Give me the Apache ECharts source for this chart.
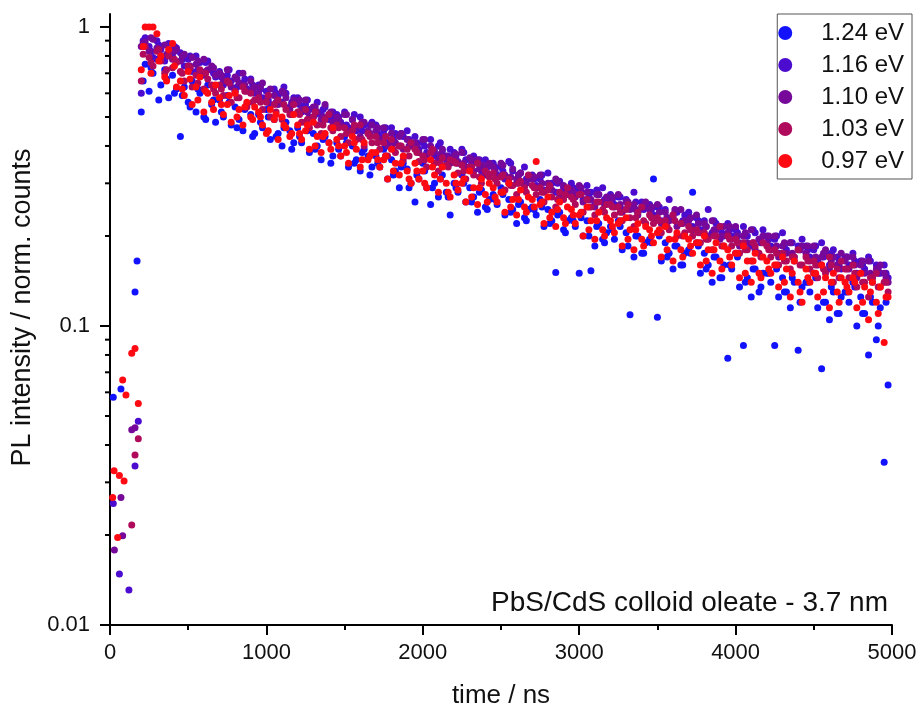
<!DOCTYPE html>
<html>
<head>
<meta charset="utf-8">
<script src="https://cdn.jsdelivr.net/npm/echarts@6/dist/echarts.min.js"></script>
<style>
  html, body { margin: 0; padding: 0; background: #fff; }
  #chart { width: 919px; height: 709px; }
</style>
</head>
<body>
<div id="chart"></div>
<script>
const FONT = "'Liberation Sans', Arial, sans-serif";

const seriesNames = ['1.24 eV', '1.16 eV', '1.10 eV', '1.03 eV', '0.97 eV'];
const seriesColors = ['#1212ff', '#4b0ccf', '#76099a', '#b00a5c', '#ff0a12'];

// y axis ticks (log)
const yMajorTicks = [0.01, 0.1, 1];
const yMinorTicks = [0.02, 0.03, 0.04, 0.05, 0.06, 0.07, 0.08, 0.09,
  0.2, 0.3, 0.4, 0.5, 0.6, 0.7, 0.8, 0.9];

// time grid of the decay part (ns)
const times = [
  200, 225, 250, 275, 300, 325, 350, 375, 400, 425,
  450, 475, 500, 525, 550, 575, 600, 625, 650, 675,
  700, 725, 750, 775, 800, 825, 850, 875, 900, 925,
  950, 975, 1000, 1025, 1050, 1075, 1100, 1125, 1150, 1175,
  1200, 1225, 1250, 1275, 1300, 1325, 1350, 1375, 1400, 1425,
  1450, 1475, 1500, 1525, 1550, 1575, 1600, 1625, 1650, 1675,
  1700, 1725, 1750, 1775, 1800, 1825, 1850, 1875, 1900, 1925,
  1950, 1975, 2000, 2025, 2050, 2075, 2100, 2125, 2150, 2175,
  2200, 2225, 2250, 2275, 2300, 2325, 2350, 2375, 2400, 2425,
  2450, 2475, 2500, 2525, 2550, 2575, 2600, 2625, 2650, 2675,
  2700, 2725, 2750, 2775, 2800, 2825, 2850, 2875, 2900, 2925,
  2950, 2975, 3000, 3025, 3050, 3075, 3100, 3125, 3150, 3175,
  3200, 3225, 3250, 3275, 3300, 3325, 3350, 3375, 3400, 3425,
  3450, 3475, 3500, 3525, 3550, 3575, 3600, 3625, 3650, 3675,
  3700, 3725, 3750, 3775, 3800, 3825, 3850, 3875, 3900, 3925,
  3950, 3975, 4000, 4025, 4050, 4075, 4100, 4125, 4150, 4175,
  4200, 4225, 4250, 4275, 4300, 4325, 4350, 4375, 4400, 4425,
  4450, 4475, 4500, 4525, 4550, 4575, 4600, 4625, 4650, 4675,
  4700, 4725, 4750, 4775, 4800, 4825, 4850, 4875, 4900, 4925,
  4950, 4975
];
// in-between channels
const times2 = [
  212, 262, 312, 362, 412, 462, 512, 562, 612, 662,
  712, 762, 812, 862, 912, 962, 1012, 1062, 1112, 1162,
  1212, 1262, 1312, 1362, 1412, 1462, 1512, 1562, 1612, 1662,
  1712, 1762, 1812, 1862, 1912, 1962, 2012, 2062, 2112, 2162,
  2212, 2262, 2312, 2362, 2412, 2462, 2512, 2562, 2612, 2662,
  2712, 2762, 2812, 2862, 2912, 2962, 3012, 3062, 3112, 3162,
  3212, 3262, 3312, 3362, 3412, 3462, 3512, 3562, 3612, 3662,
  3712, 3762, 3812, 3862, 3912, 3962, 4012, 4062, 4112, 4162,
  4212, 4262, 4312, 4362, 4412, 4462, 4512, 4562, 4612, 4662,
  4712, 4762, 4812, 4862, 4912, 4962
];

// points before the rise: [time, intensity]
const earlyBlue = [[21, 0.0578], [70, 0.0615], [160, 0.13], [173, 0.165]];
const earlyIndigo = [[21, 0.0255], [60, 0.0148], [121, 0.0131], [160, 0.034], [181, 0.048]];
const earlyPurple = [[28, 0.0178], [70, 0.0267], [81, 0.0199], [139, 0.045], [160, 0.0457]];
const earlyCrimson = [[139, 0.0216], [160, 0.037], [181, 0.042]];
const earlyRed = [[17, 0.0267], [26, 0.0328], [49, 0.0196], [60, 0.0316], [81, 0.066],
  [90, 0.0303], [102, 0.0588], [139, 0.081], [160, 0.084], [181, 0.055]];

// decay values on the time grid
const blue = [
  0.52, 0.75, 0.61, 0.70, 0.78, 0.64, 0.72, 0.58, 0.69, 0.62,
  0.43, 0.63, 0.56, 0.66, 0.52, 0.60, 0.50, 0.64, 0.55, 0.48,
  0.57, 0.50, 0.59, 0.47, 0.54, 0.49, 0.45, 0.55, 0.51, 0.44,
  0.51, 0.46, 0.53, 0.42, 0.49, 0.44, 0.40, 0.48, 0.45, 0.41,
  0.46, 0.41, 0.48, 0.38, 0.44, 0.40, 0.36, 0.43, 0.41, 0.37,
  0.41, 0.37, 0.43, 0.34, 0.40, 0.36, 0.33, 0.39, 0.37, 0.34,
  0.37, 0.34, 0.39, 0.31, 0.36, 0.33, 0.29, 0.35, 0.335, 0.30,
  0.26, 0.31, 0.35, 0.29, 0.255, 0.30, 0.27, 0.32, 0.28, 0.235,
  0.30, 0.28, 0.32, 0.26, 0.29, 0.27, 0.24, 0.285, 0.25, 0.265,
  0.275, 0.255, 0.29, 0.235, 0.265, 0.245, 0.22, 0.26, 0.23, 0.245,
  0.25, 0.235, 0.265, 0.215, 0.245, 0.225, 0.151, 0.24, 0.21, 0.225,
  0.23, 0.215, 0.15, 0.20, 0.225, 0.153, 0.185, 0.22, 0.195, 0.205,
  0.215, 0.195, 0.225, 0.18, 0.205, 0.109, 0.17, 0.20, 0.175, 0.19,
  0.195, 0.31, 0.107, 0.165, 0.19, 0.175, 0.155, 0.185, 0.16, 0.175,
  0.18, 0.28, 0.19, 0.15, 0.175, 0.16, 0.14, 0.17, 0.145, 0.16,
  0.078, 0.155, 0.175, 0.135, 0.086, 0.145, 0.125, 0.155, 0.13, 0.15,
  0.15, 0.14, 0.086, 0.125, 0.145, 0.13, 0.115, 0.14, 0.083, 0.135,
  0.14, 0.13, 0.15, 0.115, 0.072, 0.12, 0.105, 0.13, 0.11, 0.125,
  0.13, 0.12, 0.14, 0.10, 0.125, 0.11, 0.08, 0.12, 0.09, 0.115,
  0.035, 0.0635
];
const indigo = [
  0.60, 0.92, 0.86, 0.79, 0.90, 0.84, 0.77, 0.88, 0.81, 0.85,
  0.82, 0.74, 0.78, 0.71, 0.80, 0.76, 0.69, 0.77, 0.72, 0.68,
  0.71, 0.64, 0.69, 0.66, 0.61, 0.70, 0.65, 0.62, 0.67, 0.60,
  0.64, 0.58, 0.61, 0.55, 0.62, 0.59, 0.56, 0.60, 0.54, 0.58,
  0.58, 0.52, 0.55, 0.53, 0.50, 0.56, 0.51, 0.54, 0.49, 0.52,
  0.51, 0.48, 0.52, 0.46, 0.49, 0.45, 0.50, 0.47, 0.44, 0.48,
  0.47, 0.43, 0.45, 0.41, 0.46, 0.44, 0.40, 0.43, 0.45, 0.41,
  0.43, 0.39, 0.41, 0.38, 0.42, 0.37, 0.40, 0.385, 0.36, 0.39,
  0.38, 0.35, 0.39, 0.36, 0.34, 0.37, 0.35, 0.33, 0.36, 0.345,
  0.35, 0.32, 0.34, 0.31, 0.355, 0.33, 0.30, 0.325, 0.34, 0.31,
  0.32, 0.295, 0.31, 0.285, 0.325, 0.30, 0.28, 0.305, 0.29, 0.275,
  0.30, 0.275, 0.285, 0.265, 0.295, 0.28, 0.255, 0.275, 0.29, 0.26,
  0.275, 0.255, 0.27, 0.245, 0.265, 0.25, 0.28, 0.24, 0.26, 0.25,
  0.255, 0.235, 0.25, 0.225, 0.245, 0.265, 0.23, 0.24, 0.22, 0.235,
  0.24, 0.215, 0.23, 0.21, 0.225, 0.245, 0.205, 0.22, 0.215, 0.20,
  0.22, 0.20, 0.21, 0.19, 0.215, 0.20, 0.185, 0.205, 0.195, 0.21,
  0.20, 0.185, 0.195, 0.175, 0.205, 0.18, 0.19, 0.17, 0.185, 0.195,
  0.185, 0.17, 0.18, 0.165, 0.19, 0.175, 0.16, 0.18, 0.17, 0.155,
  0.17, 0.16, 0.175, 0.15, 0.165, 0.155, 0.17, 0.145, 0.16, 0.15,
  0.16, 0.145
];
const purple = [
  0.86, 0.89, 0.83, 0.91, 0.85, 0.80, 0.87, 0.82, 0.78, 0.84,
  0.77, 0.81, 0.73, 0.79, 0.75, 0.70, 0.78, 0.72, 0.74, 0.69,
  0.70, 0.66, 0.72, 0.63, 0.68, 0.65, 0.70, 0.61, 0.66, 0.63,
  0.60, 0.65, 0.57, 0.62, 0.59, 0.55, 0.61, 0.58, 0.53, 0.57,
  0.56, 0.53, 0.57, 0.50, 0.54, 0.52, 0.49, 0.55, 0.51, 0.48,
  0.50, 0.47, 0.51, 0.45, 0.49, 0.46, 0.43, 0.48, 0.45, 0.47,
  0.45, 0.42, 0.46, 0.40, 0.44, 0.41, 0.43, 0.39, 0.42, 0.40,
  0.41, 0.38, 0.42, 0.37, 0.40, 0.385, 0.36, 0.39, 0.37, 0.35,
  0.37, 0.355, 0.38, 0.34, 0.365, 0.33, 0.36, 0.345, 0.32, 0.35,
  0.34, 0.315, 0.35, 0.32, 0.30, 0.335, 0.31, 0.325, 0.295, 0.315,
  0.31, 0.29, 0.32, 0.28, 0.30, 0.285, 0.31, 0.27, 0.295, 0.28,
  0.285, 0.27, 0.295, 0.26, 0.28, 0.265, 0.25, 0.275, 0.26, 0.27,
  0.265, 0.25, 0.275, 0.24, 0.26, 0.245, 0.255, 0.235, 0.25, 0.26,
  0.245, 0.23, 0.255, 0.22, 0.24, 0.225, 0.235, 0.215, 0.245, 0.225,
  0.225, 0.21, 0.235, 0.205, 0.22, 0.20, 0.225, 0.21, 0.195, 0.215,
  0.205, 0.195, 0.215, 0.185, 0.20, 0.19, 0.21, 0.18, 0.195, 0.20,
  0.19, 0.18, 0.20, 0.17, 0.185, 0.175, 0.19, 0.165, 0.18, 0.185,
  0.175, 0.165, 0.185, 0.16, 0.17, 0.18, 0.155, 0.17, 0.16, 0.175,
  0.165, 0.155, 0.17, 0.145, 0.16, 0.15, 0.165, 0.14, 0.155, 0.16,
  0.15, 0.14
];
const crimson = [
  0.66, 0.86, 0.79, 0.74, 0.83, 0.77, 0.70, 0.80, 0.73, 0.76,
  0.71, 0.66, 0.74, 0.63, 0.69, 0.72, 0.62, 0.67, 0.64, 0.60,
  0.64, 0.59, 0.66, 0.56, 0.61, 0.58, 0.63, 0.54, 0.60, 0.57,
  0.58, 0.53, 0.56, 0.50, 0.55, 0.57, 0.49, 0.53, 0.51, 0.55,
  0.52, 0.48, 0.53, 0.46, 0.50, 0.47, 0.44, 0.49, 0.51, 0.45,
  0.47, 0.43, 0.46, 0.41, 0.45, 0.42, 0.47, 0.40, 0.44, 0.41,
  0.43, 0.39, 0.41, 0.37, 0.42, 0.38, 0.40, 0.36, 0.39, 0.41,
  0.39, 0.355, 0.37, 0.34, 0.38, 0.35, 0.33, 0.365, 0.345, 0.36,
  0.355, 0.325, 0.345, 0.31, 0.34, 0.32, 0.35, 0.30, 0.33, 0.315,
  0.325, 0.30, 0.315, 0.285, 0.31, 0.295, 0.275, 0.305, 0.29, 0.32,
  0.295, 0.275, 0.29, 0.26, 0.285, 0.27, 0.25, 0.28, 0.265, 0.29,
  0.27, 0.255, 0.275, 0.24, 0.265, 0.25, 0.235, 0.26, 0.245, 0.255,
  0.255, 0.235, 0.25, 0.225, 0.245, 0.23, 0.215, 0.24, 0.25, 0.22,
  0.235, 0.22, 0.23, 0.205, 0.225, 0.21, 0.235, 0.20, 0.22, 0.205,
  0.215, 0.20, 0.21, 0.19, 0.205, 0.195, 0.18, 0.20, 0.215, 0.185,
  0.20, 0.185, 0.195, 0.175, 0.19, 0.18, 0.165, 0.185, 0.175, 0.19,
  0.185, 0.17, 0.18, 0.16, 0.175, 0.165, 0.155, 0.17, 0.18, 0.16,
  0.17, 0.155, 0.165, 0.145, 0.16, 0.15, 0.17, 0.14, 0.155, 0.165,
  0.155, 0.145, 0.16, 0.135, 0.15, 0.14, 0.125, 0.145, 0.15, 0.135,
  0.14, 0.13
];
const red = [
  0.72, 1.0, 1.0, 1.0, 0.95, 0.80, 0.68, 0.84, 0.88, 0.63,
  0.66, 0.59, 0.71, 0.55, 0.63, 0.68, 0.52, 0.60, 0.56, 0.64,
  0.58, 0.51, 0.55, 0.48, 0.60, 0.53, 0.47, 0.56, 0.50, 0.54,
  0.52, 0.47, 0.44, 0.53, 0.49, 0.42, 0.50, 0.46, 0.43, 0.51,
  0.47, 0.42, 0.45, 0.39, 0.48, 0.43, 0.38, 0.44, 0.41, 0.46,
  0.42, 0.37, 0.40, 0.35, 0.43, 0.39, 0.34, 0.41, 0.36, 0.38,
  0.38, 0.34, 0.36, 0.31, 0.39, 0.35, 0.32, 0.37, 0.33, 0.30,
  0.35, 0.31, 0.33, 0.29, 0.36, 0.32, 0.28, 0.34, 0.30, 0.27,
  0.32, 0.285, 0.30, 0.26, 0.33, 0.29, 0.255, 0.31, 0.275, 0.30,
  0.29, 0.26, 0.28, 0.24, 0.30, 0.265, 0.235, 0.285, 0.25, 0.27,
  0.265, 0.355, 0.255, 0.22, 0.27, 0.24, 0.215, 0.26, 0.23, 0.25,
  0.245, 0.22, 0.235, 0.20, 0.25, 0.225, 0.195, 0.24, 0.21, 0.23,
  0.225, 0.205, 0.22, 0.185, 0.23, 0.21, 0.18, 0.22, 0.195, 0.215,
  0.21, 0.19, 0.205, 0.17, 0.215, 0.195, 0.165, 0.205, 0.18, 0.20,
  0.195, 0.175, 0.19, 0.16, 0.20, 0.18, 0.15, 0.19, 0.165, 0.185,
  0.18, 0.16, 0.175, 0.145, 0.185, 0.165, 0.14, 0.175, 0.15, 0.17,
  0.165, 0.15, 0.16, 0.135, 0.17, 0.155, 0.125, 0.165, 0.14, 0.12,
  0.155, 0.14, 0.15, 0.125, 0.16, 0.145, 0.115, 0.15, 0.13, 0.145,
  0.14, 0.13, 0.145, 0.115, 0.15, 0.135, 0.105, 0.14, 0.12, 0.135,
  0.088, 0.125
];

// values on the in-between channels
const blue2 = [
  0.66, 0.73, 0.57, 0.67, 0.60, 0.59, 0.54, 0.62, 0.49, 0.57,
  0.52, 0.56, 0.46, 0.53, 0.43, 0.48, 0.50, 0.43, 0.46, 0.39,
  0.43, 0.45, 0.39, 0.42, 0.35, 0.39, 0.41, 0.35, 0.38, 0.32,
  0.35, 0.37, 0.32, 0.34, 0.29, 0.32, 0.33, 0.29, 0.31, 0.27,
  0.29, 0.30, 0.26, 0.28, 0.245, 0.265, 0.275, 0.24, 0.255, 0.225,
  0.245, 0.25, 0.22, 0.235, 0.205, 0.225, 0.23, 0.20, 0.215, 0.19,
  0.21, 0.215, 0.185, 0.20, 0.175, 0.19, 0.20, 0.17, 0.185, 0.16,
  0.175, 0.185, 0.155, 0.17, 0.145, 0.16, 0.17, 0.14, 0.155, 0.135,
  0.15, 0.155, 0.13, 0.145, 0.12, 0.14, 0.145, 0.12, 0.135, 0.11,
  0.13, 0.135, 0.11, 0.125, 0.10, 0.12
];
const indigo2 = [
  0.90, 0.83, 0.87, 0.80, 0.86, 0.78, 0.80, 0.72, 0.76, 0.70,
  0.68, 0.72, 0.63, 0.67, 0.64, 0.62, 0.57, 0.60, 0.63, 0.56,
  0.55, 0.57, 0.51, 0.53, 0.50, 0.50, 0.47, 0.51, 0.45, 0.47,
  0.44, 0.46, 0.42, 0.44, 0.42, 0.41, 0.40, 0.38, 0.41, 0.37,
  0.37, 0.38, 0.35, 0.36, 0.34, 0.34, 0.33, 0.35, 0.32, 0.31,
  0.31, 0.32, 0.29, 0.30, 0.285, 0.29, 0.28, 0.27, 0.285, 0.265,
  0.265, 0.27, 0.25, 0.26, 0.245, 0.245, 0.25, 0.23, 0.24, 0.225,
  0.23, 0.225, 0.215, 0.225, 0.205, 0.21, 0.205, 0.20, 0.21, 0.19,
  0.195, 0.20, 0.185, 0.19, 0.18, 0.18, 0.185, 0.17, 0.175, 0.165,
  0.17, 0.165, 0.16, 0.165, 0.15, 0.15
];
const purple2 = [
  0.88, 0.92, 0.84, 0.81, 0.83, 0.80, 0.74, 0.77, 0.71, 0.73,
  0.69, 0.65, 0.67, 0.64, 0.62, 0.63, 0.59, 0.56, 0.60, 0.55,
  0.57, 0.52, 0.54, 0.50, 0.52, 0.49, 0.51, 0.46, 0.48, 0.44,
  0.46, 0.43, 0.41, 0.44, 0.40, 0.40, 0.42, 0.38, 0.375, 0.36,
  0.375, 0.35, 0.36, 0.335, 0.345, 0.33, 0.345, 0.315, 0.32, 0.30,
  0.315, 0.30, 0.29, 0.305, 0.275, 0.28, 0.29, 0.265, 0.275, 0.255,
  0.27, 0.255, 0.26, 0.245, 0.25, 0.25, 0.24, 0.23, 0.245, 0.22,
  0.23, 0.22, 0.215, 0.21, 0.20, 0.215, 0.20, 0.205, 0.19, 0.195,
  0.20, 0.185, 0.19, 0.175, 0.18, 0.185, 0.17, 0.175, 0.165, 0.16,
  0.17, 0.16, 0.165, 0.15, 0.155, 0.145
];
const crimson2 = [
  0.81, 0.76, 0.84, 0.72, 0.78, 0.70, 0.73, 0.65, 0.70, 0.62,
  0.62, 0.65, 0.58, 0.61, 0.56, 0.56, 0.59, 0.52, 0.55, 0.51,
  0.51, 0.49, 0.52, 0.47, 0.46, 0.46, 0.44, 0.47, 0.42, 0.43,
  0.41, 0.43, 0.39, 0.40, 0.37, 0.38, 0.36, 0.39, 0.35, 0.34,
  0.35, 0.33, 0.34, 0.315, 0.325, 0.31, 0.32, 0.295, 0.30, 0.28,
  0.29, 0.28, 0.295, 0.265, 0.275, 0.265, 0.275, 0.25, 0.26, 0.24,
  0.25, 0.24, 0.255, 0.23, 0.225, 0.23, 0.225, 0.215, 0.225, 0.20,
  0.21, 0.205, 0.195, 0.20, 0.185, 0.195, 0.19, 0.18, 0.19, 0.17,
  0.18, 0.175, 0.165, 0.17, 0.16, 0.165, 0.16, 0.155, 0.16, 0.145,
  0.155, 0.15, 0.14, 0.145, 0.135, 0.14
];
const red2 = [
  0.86, 0.70, 0.77, 0.66, 0.74, 0.62, 0.67, 0.57, 0.61, 0.53,
  0.55, 0.59, 0.50, 0.54, 0.49, 0.50, 0.45, 0.51, 0.47, 0.44,
  0.44, 0.47, 0.40, 0.43, 0.39, 0.40, 0.38, 0.41, 0.36, 0.37,
  0.36, 0.37, 0.33, 0.35, 0.31, 0.33, 0.30, 0.34, 0.31, 0.28,
  0.30, 0.31, 0.27, 0.29, 0.26, 0.27, 0.28, 0.25, 0.265, 0.24,
  0.25, 0.26, 0.23, 0.245, 0.22, 0.235, 0.24, 0.21, 0.225, 0.20,
  0.215, 0.225, 0.195, 0.21, 0.185, 0.20, 0.21, 0.18, 0.195, 0.17,
  0.185, 0.19, 0.165, 0.18, 0.155, 0.17, 0.175, 0.15, 0.165, 0.145,
  0.155, 0.16, 0.14, 0.15, 0.13, 0.145, 0.15, 0.13, 0.14, 0.12,
  0.135, 0.14, 0.12, 0.13, 0.11, 0.125
];

const decays = [blue, indigo, purple, crimson, red];
const decays2 = [blue2, indigo2, purple2, crimson2, red2];
const earlies = [earlyBlue, earlyIndigo, earlyPurple, earlyCrimson, earlyRed];

function buildData(early, vals, vals2) {
  const pts = early.slice();
  times.forEach((t, i) => {
    if (vals[i] !== undefined) pts.push([t, vals[i]]);
  });
  times2.forEach((t, i) => {
    if (vals2[i] !== undefined) pts.push([t, vals2[i]]);
  });
  return pts;
}

const chart = echarts.init(document.getElementById('chart'), null, { renderer: 'canvas' });

const scatterSeries = seriesNames.map((name, k) => ({
  name: name,
  type: 'scatter',
  symbol: 'circle',
  symbolSize: 7,
  itemStyle: { color: seriesColors[k], opacity: 1 },
  data: buildData(earlies[k], decays[k], decays2[k]),
  clip: false,
  z: 2 + k
}));

// log axis minor ticks drawn at 2..9 x 10^n via the axis scale
const tickData = yMajorTicks.map(v => [0, v, 1]).concat(yMinorTicks.map(v => [0, v, 0]));
const tickSeries = {
  name: 'yticks',
  type: 'custom',
  silent: true,
  clip: false,
  z: 10,
  data: tickData,
  renderItem: function (params, api) {
    const p = api.coord([0, api.value(1)]);
    const len = api.value(2) ? 10 : 5;
    return {
      type: 'line',
      shape: { x1: p[0] - len, y1: p[1], x2: p[0], y2: p[1] },
      style: { stroke: '#000', lineWidth: 2 }
    };
  }
};

chart.setOption({
  animation: false,
  backgroundColor: '#fff',
  textStyle: { fontFamily: FONT },
  title: {
    text: 'PbS/CdS colloid oleate - 3.7 nm',
    right: 31,
    top: 589,
    padding: 0,
    textStyle: { fontFamily: FONT, fontSize: 28, fontWeight: 'normal', color: '#111' }
  },
  legend: {
    data: seriesNames,
    orient: 'vertical',
    right: 7,
    top: 14,
    icon: 'circle',
    itemWidth: 62,
    itemHeight: 14,
    itemGap: 8,
    padding: [7, 8, 6, 1],
    borderColor: '#555',
    borderWidth: 1,
    textStyle: { fontFamily: FONT, fontSize: 24, color: '#111' }
  },
  grid: { left: 110, right: 27, top: 14, bottom: 84, containLabel: false, outerBoundsMode: 'none' },
  xAxis: {
    type: 'value',
    min: 0,
    max: 5000,
    interval: 1000,
    name: 'time / ns',
    nameLocation: 'middle',
    nameGap: 58,
    nameTextStyle: { fontFamily: FONT, fontSize: 26, color: '#111' },
    axisLine: { show: true, lineStyle: { color: '#000', width: 2 } },
    axisTick: { show: true, inside: false, length: 10, lineStyle: { color: '#000', width: 2 } },
    minorTick: { show: true, splitNumber: 2, length: 5, lineStyle: { color: '#000', width: 2 } },
    axisLabel: {
      fontFamily: FONT, fontSize: 22, color: '#111', margin: 17,
      formatter: function (v) { return String(v); }
    },
    splitLine: { show: false }
  },
  yAxis: {
    type: 'log',
    logBase: 10,
    min: 0.01,
    max: 1.105,
    name: 'PL intensity / norm. counts',
    nameLocation: 'middle',
    nameGap: 70,
    nameTextStyle: { fontFamily: FONT, fontSize: 27, color: '#111', padding: [0, 0, 0, 24] },
    axisLine: { show: true, lineStyle: { color: '#000', width: 2 } },
    axisTick: { show: false },
    axisLabel: {
      fontFamily: FONT, fontSize: 22, color: '#111', margin: 20,
      showMaxLabel: false,
      formatter: function (v) {
        if (Math.abs(v - 1) < 1e-9) return '1';
        if (Math.abs(v - 0.1) < 1e-9) return '0.1';
        if (Math.abs(v - 0.01) < 1e-9) return '0.01';
        return '';
      }
    },
    splitLine: { show: false }
  },
  series: scatterSeries.concat([tickSeries])
});
</script>
</body>
</html>
